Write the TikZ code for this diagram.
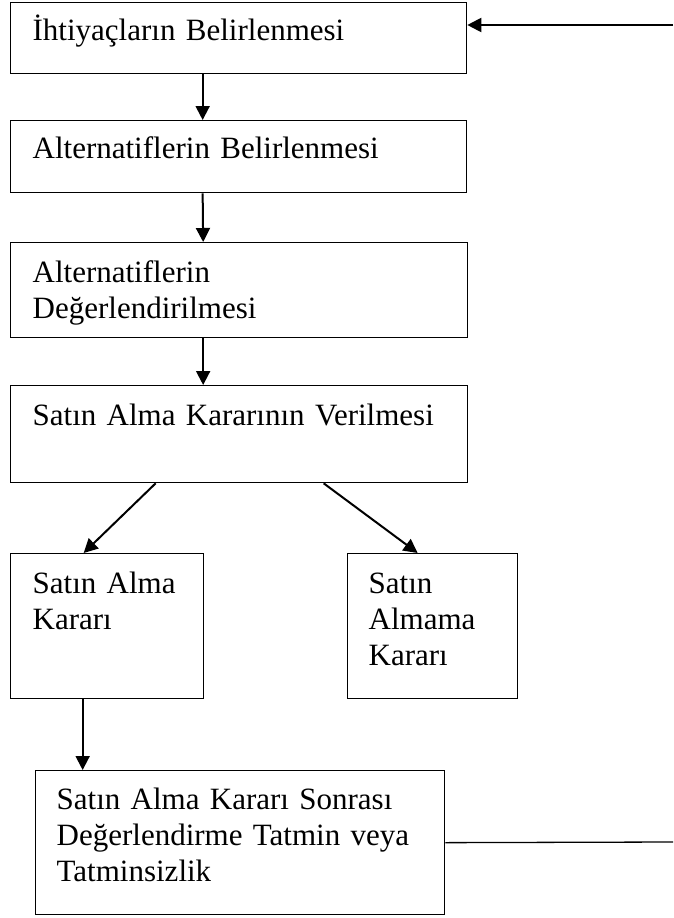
\documentclass[tikz,border=0pt]{standalone}
\usepackage{fontspec}
\setmainfont{Liberation Serif}
\usetikzlibrary{arrows.meta, positioning, calc}
\tikzset{
  box/.style    = {rectangle, draw, line width=1.3pt, anchor=north west, align=left,
                   inner xsep=22pt, inner ysep=0pt, font=\fontsize{31}{36}\selectfont},
  arrow/.style  = {line width=2pt, -{Triangle[length=14pt,width=14pt]}},
  fbline/.style = {line width=1.3pt},
}

\begin{document}
\begin{tikzpicture}[x=1pt, y=-1pt]

    \useasboundingbox (0,0) rectangle (673,918);

    %% Main column
    \node[box, text width=412pt, text height=38pt, text depth=33pt] (need) at (10,2)
         {İhtiyaçların Belirlenmesi};
    \node[box, text width=412pt, text height=38pt, text depth=34pt] (alt)  at (10,120)
         {Alternatiflerin Belirlenmesi};
    \node[box, text width=413pt, text height=40pt, text depth=55pt] (eval) at (10,242)
         {Alternatiflerin\\Değerlendirilmesi};
    \node[box, text width=413pt, text height=40pt, text depth=57pt] (dec)  at (10,385)
         {Satın Alma Kararının Verilmesi};

    \draw[arrow] ([xshift=-36pt]need.south) -- ([xshift=-36pt]alt.north);
    \draw[arrow] ([xshift=-36pt]alt.south)  -- ([xshift=-36pt]eval.north);
    \draw[arrow] ([xshift=-36pt]eval.south) -- ([xshift=-36pt]dec.north);

    %% Two decisions
    \node[box, text width=149pt, text height=40pt, text depth=105pt] (buy) at (10,553)
         {Satın Alma\\Kararı};
    \node[box, inner xsep=21pt, text width=128pt, text height=40pt, text depth=105pt] (nobuy) at (347,553)
         {Satın\\Almama\\Kararı};

    \draw[arrow] ([xshift=-83.5pt]dec.south) -- ([xshift=-23.5pt]buy.north);
    \draw[arrow] ([xshift=84.5pt]dec.south)  -- ([xshift=-15pt]nobuy.north);

    %% After the decision
    \node[box, inner xsep=21pt, text width=367pt, text height=39pt, text depth=105pt] (post) at (35,770)
         {Satın Alma Kararı Sonrası\\Değerlendirme Tatmin veya\\Tatminsizlik};

    \draw[arrow] ([xshift=-24.5pt]buy.south) -- ([xshift=-157.5pt]post.north);

    %% Feedback loop
    \coordinate (fbin)  at (673,25);
    \coordinate (fbout) at (673,842);
    \draw[fbline] (post.east) -- (fbout);
    \draw[arrow] (fbin) -- (need.east |- fbin);

\end{tikzpicture}
\end{document}
